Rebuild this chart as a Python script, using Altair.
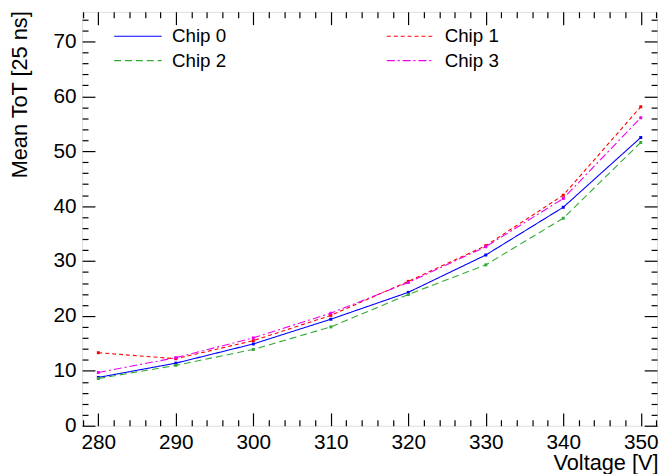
import altair as alt
import pandas as pd

voltage = [280, 290, 300, 310, 320, 330, 340, 350]
chip0 = [8.8, 11.4, 14.9, 19.4, 24.3, 31.1, 39.8, 52.5]
chip1 = [13.3, 12.2, 15.5, 20.1, 26.3, 32.8, 42.0, 58.1]
chip2 = [8.6, 11.0, 13.9, 18.0, 23.9, 29.3, 37.8, 51.6]
chip3 = [9.7, 12.4, 16.0, 20.5, 26.1, 32.6, 41.4, 56.1]
series = ["Chip 0", "Chip 2", "Chip 1", "Chip 3"]
colors = ["#0000ff", "#33aa33", "#ff0000", "#ee00ee"]
dashes = [[1, 0], [7, 4], [4, 3], [8, 3, 2, 3]]
x_ticks = list(range(278, 353, 2))
y_ticks = list(range(0, 76, 2))

rows = []
for name, vals in zip(["Chip 0", "Chip 1", "Chip 2", "Chip 3"], [chip0, chip1, chip2, chip3]):
    for v, t in zip(voltage, vals):
        rows.append({"Voltage": v, "ToT": t, "Chip": name})
df = pd.DataFrame(rows)

FONT = "Liberation Sans"
W, H = 582, 419
xscale = alt.Scale(domain=[277.9, 352.1], nice=False, zero=False)
yscale = alt.Scale(domain=[0, 75.4], nice=False, zero=False)
tick_x = alt.ExprRef("datum.value % 10 === 0 ? -13 : -6")
tick_y = alt.ExprRef("datum.value % 10 === 0 ? -13 : -6")

color = alt.Color("Chip:N", scale=alt.Scale(domain=series, range=colors),
                  legend=alt.Legend(orient="none", legendX=47, legendY=15, columns=2,
                                    columnPadding=160, rowPadding=5,
                                    title=None, symbolType="M-4,0H4", symbolSize=144,
                                    symbolStrokeWidth=1.2, labelFont=FONT, labelFontSize=19,
                                    labelOffset=25, labelColor="black"))
dash = alt.StrokeDash("Chip:N", scale=alt.Scale(domain=series, range=dashes), legend=None)

x_main = alt.X("Voltage:Q", scale=xscale,
               axis=alt.Axis(orient="bottom", values=x_ticks, tickSize=tick_x,
                             labelExpr="datum.value % 10 === 0 ? datum.label : ''",
                             title="Voltage [V]", titleAnchor="end", titleAlign="right",
                             labelFont=FONT, labelFontSize=21, titleFont=FONT, titleFontSize=22,
                             titleFontWeight="normal", labelColor="black", titleColor="black",
                             tickColor="black", tickWidth=1.2, domain=False, grid=False,
                             labelPadding=19, titlePadding=0, titleX=W + 1, labelFlush=False))
y_main = alt.Y("ToT:Q", scale=yscale,
               axis=alt.Axis(orient="left", values=y_ticks, tickSize=tick_y,
                             labelExpr="datum.value % 10 === 0 ? datum.label : ''",
                             title="Mean ToT [25 ns]", titleAnchor="end", titleAlign="right",
                             labelFont=FONT, labelFontSize=21, titleFont=FONT, titleFontSize=22,
                             titleFontWeight="normal", labelColor="black", titleColor="black",
                             tickColor="black", tickWidth=1.2, domain=False, grid=False,
                             labelPadding=19, titlePadding=22, titleY=-1, labelFlush=False))

lines = alt.Chart(df).mark_line(strokeWidth=1.1).encode(
    x=x_main, y=y_main, color=color, strokeDash=dash, detail="Chip:N")
pts = alt.Chart(df).mark_square(size=9, opacity=1).encode(
    x=alt.X("Voltage:Q", scale=xscale, axis=None), y=alt.Y("ToT:Q", scale=yscale, axis=None),
    color=alt.Color("Chip:N", scale=alt.Scale(domain=series, range=colors), legend=None))

frame = alt.Chart(df).mark_point(opacity=0).encode(
    x=alt.X("Voltage:Q", scale=xscale,
            axis=alt.Axis(orient="top", values=x_ticks, tickSize=tick_x, labels=False,
                          title=None, domain=False, grid=False, tickColor="black", tickWidth=1.2)),
    y=alt.Y("ToT:Q", scale=yscale,
            axis=alt.Axis(orient="right", values=y_ticks, tickSize=tick_y, labels=False,
                          title=None, domain=False, grid=False, tickColor="black", tickWidth=1.2)))

chart = alt.layer(lines, frame, pts).resolve_axis(x="independent", y="independent").properties(
    width=W, height=H,
    autosize=alt.AutoSizeParams(type="none"),
    padding={"left": 75, "top": 1, "right": 2, "bottom": 46},
).configure_view(stroke="black", strokeWidth=1.5).configure(background="white")

chart.save("out.html", embed_options={"renderer": "svg", "actions": False})
